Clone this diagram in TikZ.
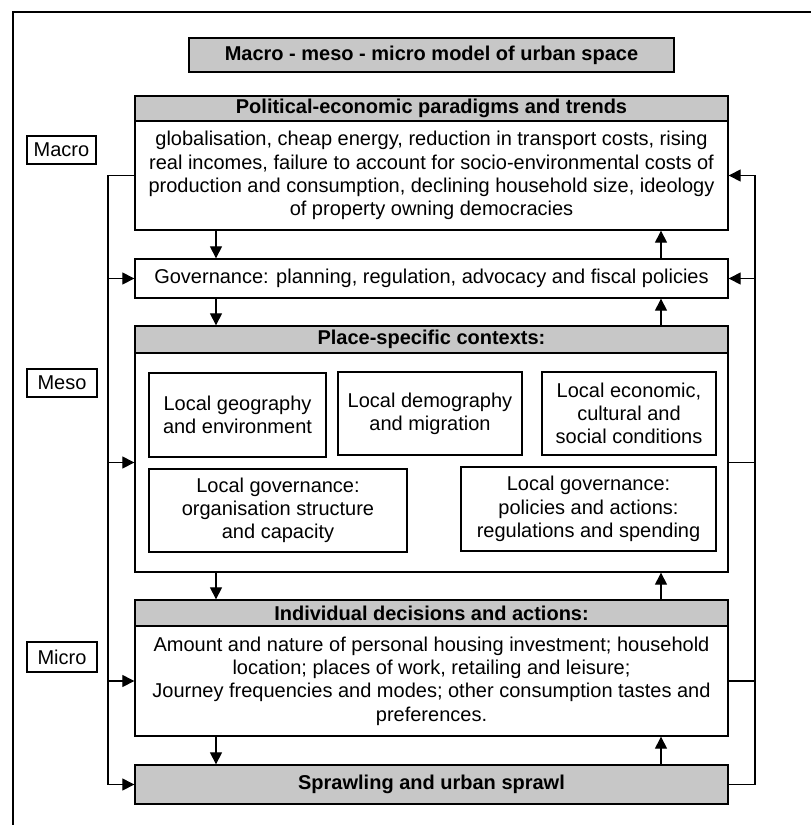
\documentclass[tikz,border=0pt]{standalone}
\usepackage{fontspec}
\setmainfont{Liberation Sans}
\usepackage{tikz}
\usetikzlibrary{calc, arrows.meta}

\definecolor{headgray}{gray}{0.78}

\tikzset{
	box/.style={draw, line width=1.3pt, align=center, inner sep=0pt, minimum width=593pt},
	headbox/.style={box, fill=headgray, font=\bfseries},
	subbox/.style={draw, line width=1.3pt, align=center, inner sep=0pt},
	lvlbox/.style={draw, line width=1.1pt, inner sep=0pt, minimum height=28pt},
	link/.style={line width=1.1pt},
	arr/.style={link, -{Triangle[length=12pt,width=12pt]}}
}

\begin{document}
\fontsize{20}{23.3}\selectfont
\begin{tikzpicture}[x=1pt, y=-1pt]
			\useasboundingbox (0,0) rectangle (811,825);
			\draw[line width=1.4pt] (13,12) rectangle (840,850);
			\coordinate (dn) at (216,0);
			\coordinate (up) at (661,0);
			\coordinate (lx) at (108,0);
			\coordinate (rx) at (755,0);
			% title and levels
			\node[headbox, minimum width=485pt, minimum height=34pt] (title) at (431.5,55) {Macro - meso - micro model of urban space};
			\node[lvlbox, minimum width=69pt] (macro) at (61.5,150) {Macro};
			\node[lvlbox, minimum width=70pt] (meso) at (62,383) {Meso};
			\node[lvlbox, minimum width=70pt, minimum height=30pt] (micro) at (62,657) {Micro};
			% main boxes
			\node[headbox, minimum height=25pt] (polhead) at (431.5,108.5) {Political-economic paradigms and trends};
			\node[box, minimum height=109pt] (polbody) at (431.5,175.5) {globalisation, cheap energy, reduction in transport costs, rising\\real incomes, failure to account for socio-environmental costs of\\production and consumption, declining household size, ideology\\of property owning democracies};
			\node[box, minimum height=39pt] (gov) at (431.5,278.5) {Governance: planning, regulation, advocacy and fiscal policies};
			\node[headbox, minimum height=27pt] (placehead) at (431.5,339.5) {Place-specific contexts:};
			\node[box, minimum height=219pt] (placebody) at (431.5,462.5) {};
			\node[headbox, minimum height=26pt] (indhead) at (431.5,613) {Individual decisions and actions:};
			\node[box, minimum height=110pt] (indbody) at (431.5,681) {Amount and nature of personal housing investment; household\\location; places of work, retailing and leisure;\\Journey frequencies and modes; other consumption tastes and\\preferences.};
			\node[headbox, minimum height=39pt] (sprawl) at (431.5,784.5) {Sprawling and urban sprawl};
			% place-specific parts
			\node[subbox, minimum width=177pt, minimum height=84pt] (geo) at (237.5,415) {Local geography\\and environment};
			\node[subbox, minimum width=184pt, minimum height=83pt] (demo) at (430,413.5) {Local demography\\and migration};
			\node[subbox, minimum width=174pt, minimum height=83pt] (econ) at (629,413.5) {Local economic,\\cultural and\\social conditions};
			\node[subbox, minimum width=258pt, minimum height=83pt] (org) at (278,510.5) {Local governance:\\organisation structure\\and capacity};
			\node[subbox, minimum width=255pt, minimum height=84pt] (pols) at (588.5,509) {Local governance:\\policies and actions:\\regulations and spending};
			% downward and upward links
			\foreach \a/\b in {polbody/gov, gov/placehead, placebody/indhead, indbody/sprawl}
				\draw[arr] (\a.south -| dn) -- (\b.north -| dn);
			\foreach \a/\b in {gov/polbody, placehead/gov, indhead/placebody, sprawl/indbody}
				\draw[arr] (\a.north -| up) -- (\b.south -| up);
			% left feedback
			\draw[arr] (polbody.west) -| (lx |- sprawl.west) -- (sprawl.west);
			\foreach \n in {gov, placebody, indbody}
				\draw[arr] (\n.west -| lx) -- (\n.west);
			% right feedback
			\draw[arr] (sprawl.east) -| (rx |- polbody.east) -- (polbody.east);
			\draw[arr] (gov.east -| rx) -- (gov.east);
			\draw[link] (placebody.east) -- (placebody.east -| rx);
			\draw[link] (indbody.east) -- (indbody.east -| rx);
		\end{tikzpicture}
\end{document}
